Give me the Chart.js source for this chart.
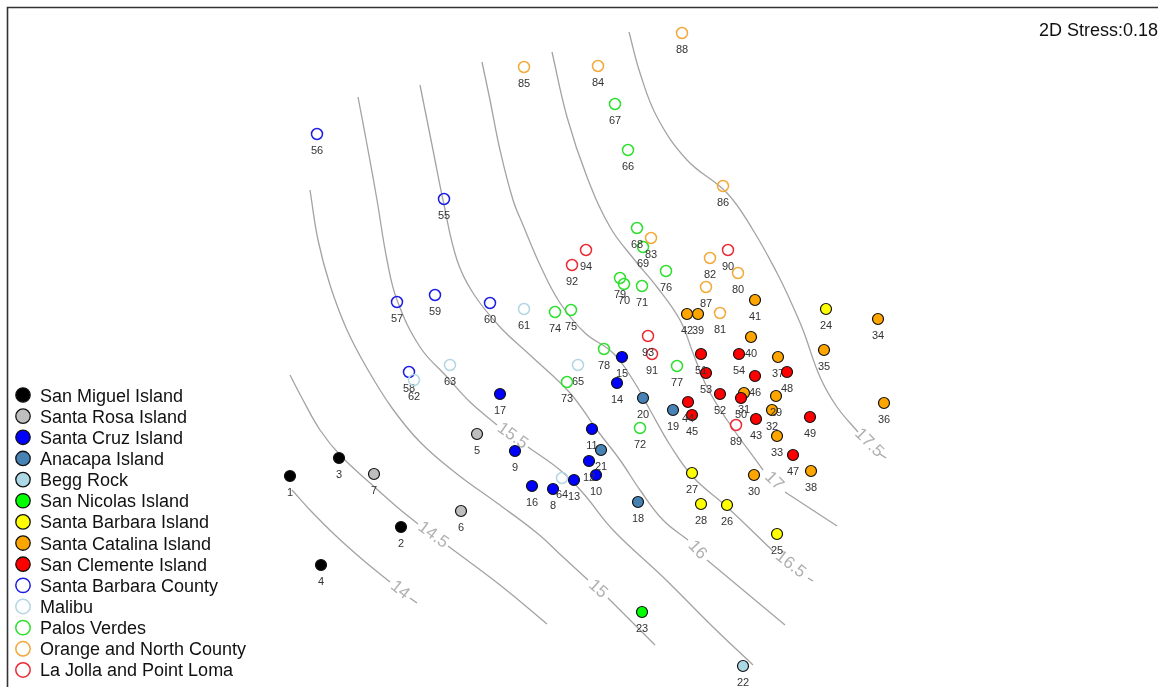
<!DOCTYPE html>
<html>
<head>
<meta charset="utf-8">
<script src="https://cdn.jsdelivr.net/npm/chart.js@4.4.0/dist/chart.umd.min.js"></script>
<style>
  html, body { margin: 0; padding: 0; background: #ffffff; }
  canvas { display: block; }
</style>
</head>
<body>
<canvas id="nmds" width="1158" height="687"></canvas>
<script>
// ---- Sites (legend order) ----
const sites = [
  'San Miguel Island', 'Santa Rosa Island', 'Santa Cruz Island', 'Anacapa Island',
  'Begg Rock', 'San Nicolas Island', 'Santa Barbara Island', 'Santa Catalina Island',
  'San Clemente Island', 'Santa Barbara County', 'Malibu', 'Palos Verdes',
  'Orange and North County', 'La Jolla and Point Loma'
];

// ---- Samples: number, site index, NMDS coordinates ----
const sampleNo = [
  1, 2, 3, 4, 5, 6, 7, 8, 9, 10, 11, 12, 13, 14, 15, 16, 17, 18, 19, 20,
  21, 22, 23, 24, 25, 26, 27, 28, 29, 30, 31, 32, 33, 34, 35, 36, 37, 38, 39, 40,
  41, 42, 43, 44, 45, 46, 47, 48, 49, 50, 51, 52, 53, 54, 55, 56, 57, 58, 59, 60,
  61, 62, 63, 64, 65, 66, 67, 68, 69, 70, 71, 72, 73, 74, 75, 76, 77, 78, 79, 80,
  81, 82, 83, 84, 85, 86, 87, 88, 89, 90, 91, 92, 93, 94
];
const sampleSite = [
  0, 0, 0, 0, 1, 1, 1, 2, 2, 2, 2, 2, 2, 2, 2, 2, 2, 3, 3, 3,
  3, 4, 5, 6, 6, 6, 6, 6, 7, 7, 7, 7, 7, 7, 7, 7, 7, 7, 7, 7,
  7, 7, 8, 8, 8, 8, 8, 8, 8, 8, 8, 8, 8, 8, 9, 9, 9, 9, 9, 9,
  10, 10, 10, 10, 10, 11, 11, 11, 11, 11, 11, 11, 11, 11, 11, 11, 11, 11, 11, 12,
  12, 12, 12, 12, 12, 12, 12, 12, 13, 13, 13, 13, 13, 13
];
const nmds1 = [
  -2.90, -1.79, -2.41, -2.59, -1.03, -1.19, -2.06, -0.27, -0.65, 0.16,
   0.12,  0.09, -0.06,  0.37,  0.42, -0.48, -0.80,  0.58,  0.93, 0.63,
   0.21,  1.63,  0.62,  2.46,  1.97,  1.47,  1.12,  1.21,  1.96, 1.74,
   1.64,  1.92,  1.97,  2.98,  2.44,  3.04,  1.98,  2.31,  1.18, 1.71,
   1.75,  1.07,  1.76,  1.08,  1.12,  1.75,  2.13,  2.07,  2.30, 1.61,
   1.21,  1.40,  1.26,  1.59, -1.36, -2.63, -1.83, -1.71, -1.45, -0.90,
  -0.56, -1.66, -1.30, -0.18, -0.02,  0.48,  0.35,  0.57,  0.63, 0.44,
   0.62,  0.60, -0.13, -0.25, -0.09,  0.86,  0.97,  0.24,  0.40, 1.58,
   1.40,  1.30,  0.71,  0.18, -0.56,  1.43,  1.26,  1.02,  1.56, 1.48,
   0.72, -0.08,  0.68,  0.06
];
const nmds2 = [
  -1.31, -1.82, -1.13, -2.20, -0.89, -1.66, -1.29, -1.44, -1.06, -1.30,
  -0.84, -1.16, -1.35, -0.38, -0.12, -1.41, -0.49, -1.57, -0.65, -0.53,
  -1.05, -3.21, -2.67,  0.36, -1.89, -1.60, -1.28, -1.59, -0.51, -1.30,
  -0.48, -0.65, -0.91,  0.26, -0.05, -0.58, -0.12, -1.26,  0.31,  0.08,
   0.45,  0.31, -0.74, -0.57, -0.70, -0.31, -1.10, -0.27, -0.72, -0.53,
  -0.09, -0.49, -0.28, -0.09,  1.46,  2.11,  0.43, -0.27,  0.50,  0.42,
   0.36, -0.35, -0.20, -1.33, -0.20,  1.95,  2.41,  1.17,  0.98,  0.61,
   0.59, -0.83, -0.37,  0.33,  0.35,  0.74, -0.21, -0.04,  0.67,  0.72,
   0.32,  0.87,  1.07,  2.79,  2.78,  1.59,  0.58,  3.12, -0.80,  0.95,
  -0.09,  0.80,  0.09,  0.95
];

// ---- Fitted surface isolines (label level, line before label, short run after label) ----
const isoLevels = ['14', '14.5', '15', '15.5', '16', '16.5', '17', '17.5'];
const iso14 = [
  [[-2.88, -1.45], [-2.70, -1.65], [-2.45, -1.90], [-2.17, -2.15], [-1.90, -2.37]],
  [[-1.70, -2.53], [-1.63, -2.58]]
];
const iso14_5 = [
  [[-2.90, -0.30], [-2.77, -0.55], [-2.60, -0.85], [-2.40, -1.10], [-2.10, -1.38], [-1.83, -1.62], [-1.62, -1.79]],
  [[-1.32, -2.01], [-0.80, -2.40], [-0.33, -2.79]]
];
const iso15 = [
  [[-2.70, 1.55], [-2.62, 1.05], [-2.50, 0.60], [-2.33, 0.15], [-2.12, -0.25], [-1.88, -0.63], [-1.60, -0.97],
   [-1.23, -1.29], [-0.83, -1.58], [-0.43, -1.88], [-0.17, -2.12], [0.08, -2.35]],
  [[0.28, -2.53], [0.75, -3.00]]
];
const iso15_5 = [
  [[-2.22, 2.48], [-2.12, 1.95], [-2.03, 1.45], [-1.93, 0.85], [-1.83, 0.45], [-1.60, -0.02], [-1.33, -0.32],
   [-1.10, -0.57], [-0.83, -0.80]],
  [[-0.52, -1.02], [-0.20, -1.25], [0.03, -1.48], [0.33, -1.85], [0.83, -2.32], [1.33, -2.82], [1.73, -3.20]]
];
const iso16 = [
  [[-1.60, 2.60], [-1.47, 1.95], [-1.37, 1.45], [-1.23, 0.85], [-1.07, 0.52], [-0.80, 0.18], [-0.50, -0.10],
   [-0.10, -0.48], [0.17, -0.85], [0.40, -1.15], [0.60, -1.45], [0.83, -1.75], [1.08, -1.95]],
  [[1.27, -2.15], [2.05, -2.80]]
];
const iso16_5 = [
  [[-0.98, 2.83], [-0.90, 2.45], [-0.80, 1.95], [-0.67, 1.45], [-0.57, 1.20], [-0.40, 0.80], [-0.20, 0.42],
   [0.05, 0.12], [0.33, -0.08], [0.53, -0.35], [0.70, -0.65], [0.90, -1.00], [1.13, -1.32], [1.47, -1.62], [1.93, -2.06]],
  [[2.28, -2.33], [2.33, -2.36]]
];
const iso17 = [
  [[-0.28, 2.93], [-0.13, 2.28], [0.07, 1.68], [0.30, 1.18], [0.53, 0.87], [0.77, 0.58], [1.00, 0.25],
   [1.13, -0.08], [1.27, -0.42], [1.47, -0.75], [1.83, -1.25]],
  [[2.05, -1.47], [2.57, -1.81]]
];
const iso17_5 = [
  [[0.49, 3.13], [0.60, 2.72], [0.77, 2.28], [1.07, 1.85], [1.47, 1.52], [1.73, 1.15], [1.97, 0.72],
   [2.10, 0.45], [2.23, 0.15], [2.40, -0.32], [2.57, -0.62], [2.78, -0.87]],
  [[3.00, -1.09], [3.06, -1.13]]
];
const isolines = [iso14, iso14_5, iso15, iso15_5, iso16, iso16_5, iso17, iso17_5];

// ---- Styling ----
const FONT = '"Liberation Sans", Arial, Helvetica, sans-serif';
const siteColor = [
  '#000000', '#bebebe', '#0000ff', '#4682b4', '#add8e6', '#00ff00', '#ffff00',
  '#ffa500', '#ff0000', '#1c1ce6', '#b4d6e4', '#2ee02e', '#f2a93a', '#ec2a36'
];
const siteHollow = [false, false, false, false, false, false, false, false, false, true, true, true, true, true];

const datasets = [];
sites.forEach((name, s) => {
  const pts = [], nums = [];
  sampleSite.forEach((g, i) => {
    if (g === s) { pts.push({ x: nmds1[i], y: nmds2[i] }); nums.push(sampleNo[i]); }
  });
  datasets.push({
    label: name,
    data: pts,
    sampleNo: nums,
    hollow: siteHollow[s],
    order: -s,
    pointRadius: 5.5,
    pointHoverRadius: 5.5,
    pointBackgroundColor: siteHollow[s] ? 'rgba(0,0,0,0)' : siteColor[s],
    pointBorderColor: siteHollow[s] ? siteColor[s] : '#111111',
    pointBorderWidth: siteHollow[s] ? 1.5 : 1.2,
    backgroundColor: siteColor[s],
    borderColor: siteColor[s]
  });
});
isolines.forEach((iso, k) => {
  const headIndex = datasets.length;
  iso.forEach((part, p) => {
    datasets.push({
      label: 'iso ' + isoLevels[k] + (p ? ' b' : ' a'),
      data: part.map(v => ({ x: v[0], y: v[1] })),
      isoPart: p ? 'tail' : 'head',
      isoLabel: isoLevels[k],
      headIndex: headIndex,
      order: 20,
      showLine: true,
      tension: 0.4,
      borderColor: '#a3a3a3',
      borderWidth: 1.3,
      pointRadius: 0,
      pointHoverRadius: 0,
      fill: false
    });
  });
});

// Sample numbers under each marker
const sampleLabels = {
  id: 'sampleLabels',
  afterDatasetDraw(chart, args) {
    const ds = chart.data.datasets[args.index];
    if (!ds.sampleNo) return;
    const ctx = chart.ctx;
    ctx.save();
    ctx.font = '11px ' + FONT;
    ctx.fillStyle = '#333333';
    ctx.textAlign = 'center';
    ctx.textBaseline = 'alphabetic';
    args.meta.data.forEach((pt, i) => ctx.fillText(String(ds.sampleNo[i]), pt.x, pt.y + 20));
    ctx.restore();
  }
};

// Level labels placed in the gap of each isoline, rotated along it
const isoLabels = {
  id: 'isoLabels',
  afterDatasetDraw(chart, args) {
    const ds = chart.data.datasets[args.index];
    if (ds.isoPart !== 'tail') return;
    const headPts = chart.getDatasetMeta(ds.headIndex).data;
    const a = headPts[headPts.length - 1];
    const b = args.meta.data[0];
    const ctx = chart.ctx;
    ctx.save();
    ctx.translate((a.x + b.x) / 2, (a.y + b.y) / 2);
    ctx.rotate(Math.atan2(b.y - a.y, b.x - a.x));
    ctx.font = '17px ' + FONT;
    ctx.fillStyle = '#b0b0b0';
    ctx.textAlign = 'center';
    ctx.textBaseline = 'middle';
    ctx.fillText(ds.isoLabel, 0, 0);
    ctx.restore();
  }
};

// Frame, stress value and the site key
const decorations = {
  id: 'decorations',
  afterDraw(chart) {
    const ctx = chart.ctx;
    ctx.save();
    ctx.strokeStyle = '#333333';
    ctx.lineWidth = 1.6;
    ctx.beginPath();
    ctx.moveTo(7.5, chart.height);
    ctx.lineTo(7.5, 7.5);
    ctx.lineTo(chart.width, 7.5);
    ctx.stroke();

    ctx.font = '18px ' + FONT;
    ctx.fillStyle = '#111111';
    ctx.textAlign = 'right';
    ctx.textBaseline = 'alphabetic';
    ctx.fillText('2D Stress:0.18', 1158, 35.5);

    ctx.textAlign = 'left';
    chart.data.datasets.filter(d => d.sampleNo).forEach((ds, k) => {
      const cy = 395 + k * 21.15;
      ctx.beginPath();
      ctx.arc(23, cy, 7.2, 0, Math.PI * 2);
      if (ds.hollow) {
        ctx.lineWidth = 1.5;
        ctx.strokeStyle = ds.borderColor;
        ctx.stroke();
      } else {
        ctx.fillStyle = ds.backgroundColor;
        ctx.fill();
        ctx.lineWidth = 1.3;
        ctx.strokeStyle = '#111111';
        ctx.stroke();
      }
      ctx.fillStyle = '#111111';
      ctx.fillText(ds.label, 40, cy + 6.5);
    });
    ctx.restore();
  }
};

new Chart(document.getElementById('nmds'), {
  type: 'scatter',
  data: { datasets },
  options: {
    responsive: false,
    animation: false,
    events: [],
    layout: { padding: 0, autoPadding: false },
    scales: {
      x: { type: 'linear', min: -5.80, max: 5.78, display: false },
      y: { type: 'linear', min: -3.42, max: 3.45, display: false }
    },
    plugins: {
      legend: { display: false },
      tooltip: { enabled: false }
    }
  },
  plugins: [sampleLabels, isoLabels, decorations]
});
</script>
</body>
</html>
